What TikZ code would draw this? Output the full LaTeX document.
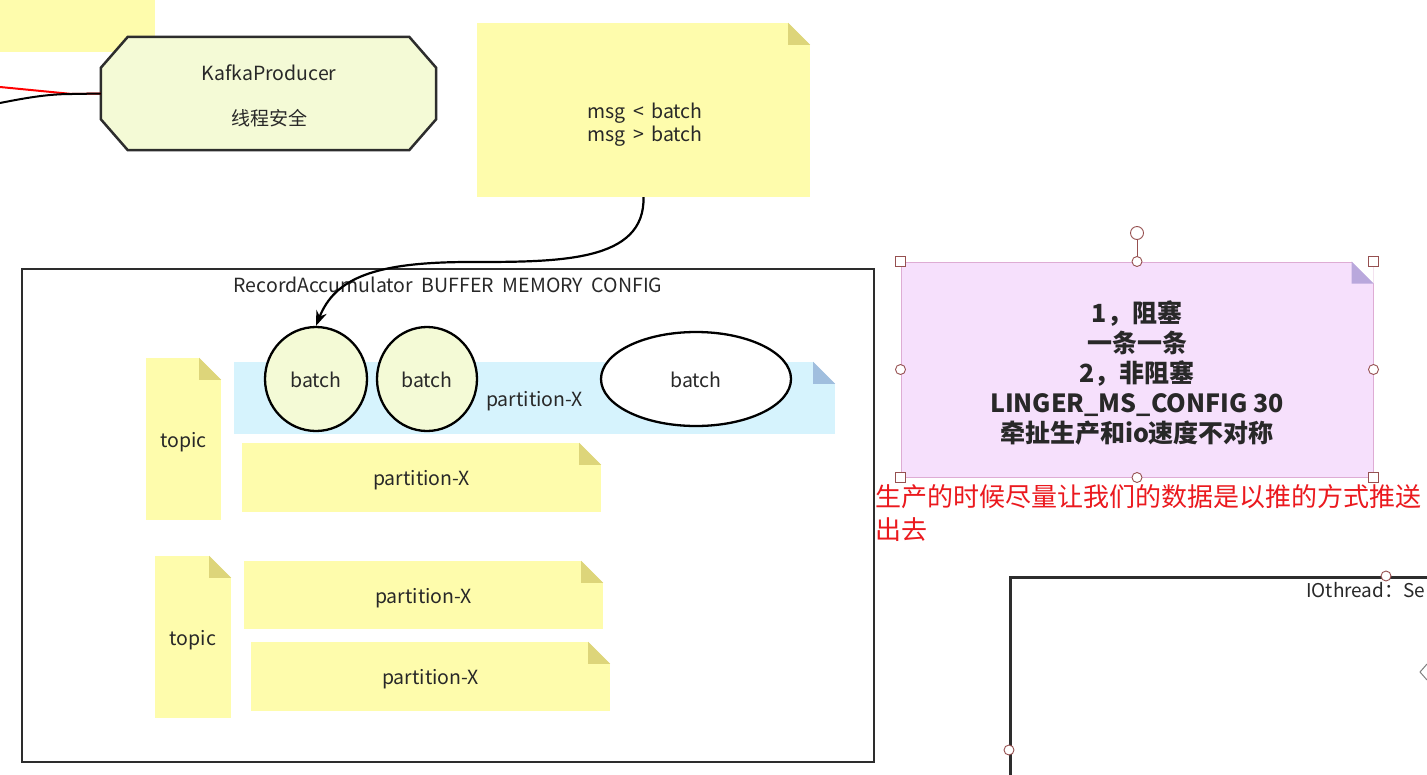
\documentclass[tikz,border=0pt]{standalone}
\usepackage{fontspec}
\setmainfont{Noto Sans CJK SC}
\usetikzlibrary{shapes.geometric,arrows.meta,calc}
\definecolor{noteY}{RGB}{254,252,172}
\definecolor{foldY}{RGB}{221,213,122}
\definecolor{greenF}{RGB}{244,250,214}
\definecolor{blueF}{RGB}{214,243,253}
\definecolor{blueFold}{RGB}{160,190,222}
\definecolor{purpF}{RGB}{246,224,252}
\definecolor{purpFold}{RGB}{185,168,220}
\definecolor{purpLine}{RGB}{222,172,212}
\definecolor{hdl}{RGB}{150,80,80}
\definecolor{txt}{RGB}{40,40,40}
\definecolor{frameC}{RGB}{45,45,45}
\definecolor{redT}{RGB}{235,25,30}
\newcommand\foldnote[3][22]{%
  \fill[white] (#2.north east) -- ++(-#1,0) -- ++(#1,#1) -- cycle;
  \fill[#3] ($(#2.north east)+(-#1,0)$) -- ++(#1,#1) -- ++(-#1,0) -- cycle;}
\newcommand\dn[1]{\raisebox{-3pt}[\height][\depth]{#1}}
\newcommand\dnb[1]{\raisebox{-1pt}[\height][\depth]{#1}}
\begin{document}
\begin{tikzpicture}[x=1pt,y=-1pt,
  note/.style={fill=noteY, inner sep=0, text=txt, font=\fontsize{19.5}{23}\selectfont},
  lbl/.style={text=txt, inner sep=0, font=\fontsize{19.5}{23}\selectfont, align=center},
  batchnode/.style={ellipse, draw=black, line width=2.3, fill=greenF, inner sep=0, text=txt, font=\fontsize{19.5}{23}\selectfont},
  frame/.style={draw=frameC, line width=2.5},
  handle/.style={draw=hdl, fill=white, line width=0.9, inner sep=0},
  conn/.style={line width=2.2, draw=black}]
\useasboundingbox (0,0) rectangle (1427,774);
\clip (0,0) rectangle (1427,774);
\fill[white] (0,0) rectangle (1427,774);

% top-left note fragment
\node[note, anchor=north west, minimum width=155, minimum height=52] (tl) at (0,0) {};

% KafkaProducer octagon
\node[inner sep=0, minimum width=335, minimum height=113] (kp) at (268.5,93.5) {};
\filldraw[fill=greenF, draw=frameC, line width=2.5]
  ($(kp.north west)+(27,0)$) -- ($(kp.north east)+(-27,0)$) -- ($(kp.north east)+(0,31)$)
  -- ($(kp.south east)+(0,-31)$) -- ($(kp.south east)+(-27,0)$) -- ($(kp.south west)+(27,0)$)
  -- ($(kp.south west)+(0,-31)$) -- ($(kp.north west)+(0,31)$) -- cycle;
\node[lbl] (kpt) at (269,73) {KafkaProducer};
\node[lbl, font=\fontsize{19}{23}\selectfont] (kps) at (269,118.5) {线程安全};
\coordinate (inR) at (0,87);
\coordinate (inB) at (0,103);
\coordinate (joinP) at (72,94);
\draw[red, line width=2] (inR) -- (joinP) -- (kp.west);
\draw[black, line width=2] (inB) .. controls (30,97) and (50,94) .. (joinP) -- (kp.west);

% msg note
\node[note, minimum width=333, minimum height=174] (msg) at (643.5,110) {};
\foldnote{msg}{foldY}
\node[lbl] (msgt) at (645,124.5) {msg \,<\, batch\\msg \,>\, batch};

% RecordAccumulator frame
\node[frame, inner sep=0, minimum width=852, minimum height=493] (acc) at (448,515.5) {};
\node[lbl, font=\fontsize{19.5}{23}\selectfont] (acct) at (448,285) {RecordAccumulator\ \ BUFFER\ \ MEMORY\ \ CONFIG};

% blue partition band
\node[note, fill=blueF, minimum width=601, minimum height=72] (band) at (534.5,398) {\dn{partition-X}};
\foldnote{band}{blueFold}

% batches
\node[batchnode, minimum width=102, minimum height=104] (b1) at (316,379) {\dnb{batch}};
\node[batchnode, minimum width=100, minimum height=104] (b2) at (427,379) {\dnb{batch}};
\node[batchnode, fill=white, minimum width=190, minimum height=94] (b3) at (696,379) {\dnb{batch}};

% topics and partitions
\node[note, minimum width=75, minimum height=162] (t1) at (183.5,439) {\dn{topic}};
\foldnote{t1}{foldY}
\node[note, minimum width=359, minimum height=69] (p1) at (421.5,477.5) {\dn{partition-X}};
\foldnote{p1}{foldY}
\node[note, minimum width=76, minimum height=162] (t2) at (193,637) {\dn{topic}};
\foldnote{t2}{foldY}
\node[note, minimum width=359, minimum height=68] (p2) at (423.5,595) {\dn{partition-X}};
\foldnote{p2}{foldY}
\node[note, minimum width=359, minimum height=69] (p3) at (430.5,676.5) {\dn{partition-X}};
\foldnote{p3}{foldY}

% arrow from msg note to first batch
\coordinate (via) at (470,262);
\draw[conn, -{Stealth[length=15,width=11]}] (msg.south) .. controls (645,262) and (560,262) .. (via)
  .. controls (375,262) and (335,278) .. (b1.north);

% purple note with selection handles
\node[note, fill=purpF, draw=purpLine, line width=1, minimum width=472, minimum height=215,
  font=\bfseries\fontsize{25}{30}\selectfont, align=center] (pn) at (1137,369.5)
  {\dn{1，阻塞}\\\dn{一条一条}\\\dn{2，非阻塞}\\\dn{LINGER\_MS\_CONFIG 30}\\\dn{牵扯生产和io速度不对称}};
\foldnote{pn}{purpFold}
\node[handle, circle, minimum size=13] (rot) at (1137,233) {};
\draw[hdl, line width=0.9] (rot.south) -- ($(pn.north)+(0,-5)$);
\foreach \a/\n in {north west/h1, north east/h2, south west/h3, south east/h4}
  \node[handle, rectangle, minimum size=10] (\n) at (pn.\a) {};
\foreach \a/\n in {north/h5, south/h6, west/h7, east/h8}
  \node[handle, circle, minimum size=10] (\n) at (pn.\a) {};

% red remark
\node[anchor=west, inner sep=0, text=redT, align=left, font=\fontsize{26}{33}\selectfont] (rem) at (875,513.5)
  {生产的时候尽量让我们的数据是以推的方式推送\\出去};

% IOthread frame (cut by the page edge)
\node[frame, inner sep=0, anchor=north west, minimum width=450, minimum height=260] (io) at (1009,576) {};
\node[anchor=west, inner sep=0, text=txt, font=\fontsize{19}{23}\selectfont] (iot) at (1306,590) {IOthread：Se};
\node[handle, circle, minimum size=10] (h9) at (1386,576) {};
\node[handle, circle, minimum size=10] (h10) at (1009,750) {};
\coordinate (chA) at (1427,664);
\coordinate (chB) at (1420,672);
\coordinate (chC) at (1427,680);
\draw[gray, line width=1] (chA) -- (chB) -- (chC);
\end{tikzpicture}
\end{document}
